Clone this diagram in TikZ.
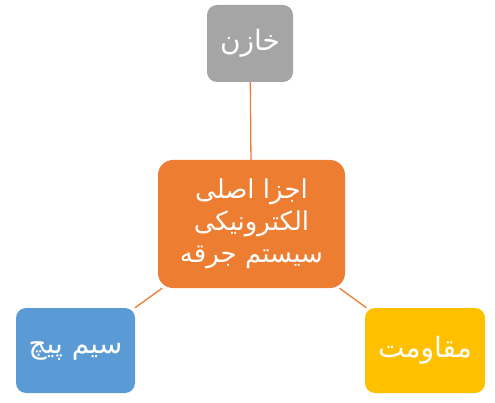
\documentclass[tikz,border=0pt]{standalone}
\usepackage{fontspec}
\newfontfamily\arabicfont[Script=Arabic]{DejaVu Sans}
\TeXXeTstate=1
\definecolor{boxgray}{HTML}{A5A5A5}
\definecolor{boxorange}{HTML}{ED7D31}
\definecolor{boxblue}{HTML}{5B9BD5}
\definecolor{boxyellow}{HTML}{FFC000}
\begin{document}
\begin{tikzpicture}[x=1pt,y=-1pt]
        \useasboundingbox (0,0) rectangle (495,403);

        \begin{scope}[every node/.style={rounded corners=10pt,text=white,align=center,inner sep=0pt,
            font=\arabicfont\fontsize{28}{32}\selectfont}]
          \node[fill=boxgray,minimum width=86pt,minimum height=77pt]   (cap)  at (250,43.5)  {\beginR خازن\endR};
          \node[fill=boxorange,minimum width=187pt,minimum height=128pt,rounded corners=15pt,
            font=\arabicfont\fontsize{26}{32}\selectfont]              (main) at (251.5,224) {\beginR اجزا اصلی\endR\\\beginR الکترونیکی\endR\\\beginR سیستم جرقه\endR};
          \node[fill=boxblue,minimum width=119pt,minimum height=85pt]  (wire) at (75.5,350.5) {\beginR سیم پیچ\endR};
          \node[fill=boxyellow,minimum width=120pt,minimum height=85pt] (res) at (425,350.5) {\beginR مقاومت\endR};
        \end{scope}

        \begin{scope}[every edge/.style={draw=boxorange,line width=1.3pt}]
          \path (cap)  edge (main);
          \path (main) edge (wire);
          \path (main) edge (res);
        \end{scope}

\end{tikzpicture}
\end{document}
